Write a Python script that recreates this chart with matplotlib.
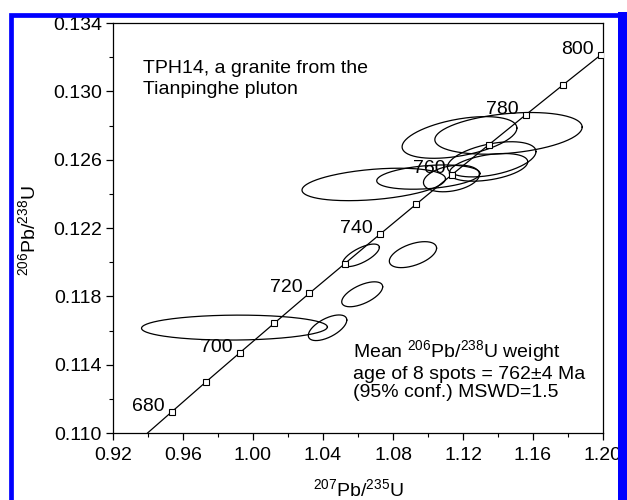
import numpy as np
import matplotlib
matplotlib.use('Agg')
import matplotlib.pyplot as plt
from matplotlib.patches import Rectangle
from matplotlib.ticker import MultipleLocator, FormatStrFormatter

plt.rcParams['font.family'] = ['Liberation Sans', 'DejaVu Sans']
plt.rcParams['mathtext.default'] = 'regular'

# concordia reference points (Ma) and their isotope ratios
ages = [670, 680, 690, 700, 710, 720, 730, 740, 750, 760, 770, 780, 790, 800]
pb207_u235 = [0.9345, 0.9537, 0.9730, 0.9925, 1.0122, 1.0321, 1.0523,
              1.0726, 1.0931, 1.1138, 1.1347, 1.1558, 1.1772, 1.1987]
pb206_u238 = [0.10953, 0.11125, 0.11298, 0.11470, 0.11643, 0.11817, 0.11990,
              0.12164, 0.12338, 0.12513, 0.12687, 0.12862, 0.13038, 0.13213]
labelled_ages = [680, 700, 720, 740, 760, 780, 800]

# zircon spots: ratio centres, 2-sigma half widths and error correlation
spot_x = [1.1180, 1.1460, 1.0690, 1.1002, 1.1364, 1.1346, 1.1134,
          1.0617, 1.0914, 1.0624, 0.9894, 1.0426]
spot_x_err = [0.0328, 0.0421, 0.0410, 0.0295, 0.0253, 0.0224, 0.0160,
              0.0105, 0.0135, 0.0117, 0.0531, 0.0110]
spot_y = [0.12730, 0.12754, 0.12455, 0.12498, 0.12602, 0.12555, 0.12490,
          0.12040, 0.12044, 0.11812, 0.11617, 0.11616]
spot_y_err = [0.00122, 0.00122, 0.00095, 0.00071, 0.00103, 0.00081, 0.00078,
              0.00066, 0.00076, 0.00073, 0.00073, 0.00075]
spot_rho = [0.45, 0.30, 0.35, 0.30, 0.44, 0.40, 0.30,
            0.70, 0.50, 0.60, 0.05, 0.60]

x_ticks = [0.92, 0.96, 1.00, 1.04, 1.08, 1.12, 1.16, 1.20]
y_ticks = [0.110, 0.114, 0.118, 0.122, 0.126, 0.130, 0.134]


def error_ellipse(cx, sx, cy, sy, rho, n=200):
    t = np.linspace(0, 2 * np.pi, n)
    ex = cx + sx * np.cos(t)
    ey = cy + sy * (rho * np.cos(t) + np.sqrt(1 - rho ** 2) * np.sin(t))
    return ex, ey


fig = plt.figure(figsize=(6.27, 5.0), dpi=100)
ax = fig.add_axes([113 / 627, 67 / 500, 490 / 627, 410 / 500])

for cx, sx, cy, sy, r in zip(spot_x, spot_x_err, spot_y, spot_y_err, spot_rho):
    ex, ey = error_ellipse(cx, sx, cy, sy, r)
    ax.plot(ex, ey, color='black', lw=0.9)

ax.plot(pb207_u235, pb206_u238, color='black', lw=0.9, marker='s', ms=4.5,
        mfc='white', mec='black', mew=0.8, zorder=5)

for a, x, y in zip(ages, pb207_u235, pb206_u238):
    if a in labelled_ages:
        ax.annotate(str(a), (x, y), xytext=(-5, 4), textcoords='offset points',
                    ha='right', va='center', fontsize=14)

ax.set_xlim(0.92, 1.20)
ax.set_ylim(0.110, 0.134)
ax.set_xticks(x_ticks)
ax.set_yticks(y_ticks)
ax.xaxis.set_minor_locator(MultipleLocator(0.02))
ax.yaxis.set_minor_locator(MultipleLocator(0.002))
ax.xaxis.set_major_formatter(FormatStrFormatter('%.2f'))
ax.yaxis.set_major_formatter(FormatStrFormatter('%.3f'))
ax.tick_params(which='major', direction='out', length=5, width=0.9,
               labelsize=14, pad=3)
ax.tick_params(which='minor', direction='out', length=3, width=0.8)
ax.tick_params(axis='x', which='major', pad=5)
for s in ax.spines.values():
    s.set_linewidth(0.9)

ax.text(0.937, 0.13072, 'TPH14, a granite from the\nTianpinghe pluton',
        fontsize=14, va='center', linespacing=1.35)
ax.text(1.0571, 0.11370,
        'Mean $^{206}$Pb/$^{238}$U weight\nage of 8 spots = 762\u00b14 Ma\n(95% conf.) MSWD=1.5',
        fontsize=14, va='center', linespacing=1.1)

fig.text(358 / 627, 11 / 500, '$^{207}$Pb/$^{235}$U', ha='center', va='center',
         fontsize=14)
fig.text(28 / 627, 1 - 231 / 500, '$^{206}$Pb/$^{238}$U', ha='center',
         va='center', rotation=90, fontsize=14)

# blue frame round the whole figure
fig.patches.append(Rectangle((11 / 627, -0.02), 611 / 627, 1 - 14.5 / 500 + 0.02,
                             transform=fig.transFigure, fill=False,
                             edgecolor='#0000ff', lw=3.4))
fig.patches.append(Rectangle((618 / 627, 0), 9 / 627, 1 - 12 / 500,
                             transform=fig.transFigure, color='#0000ff', lw=0))

fig.savefig('out.png', dpi=100)
